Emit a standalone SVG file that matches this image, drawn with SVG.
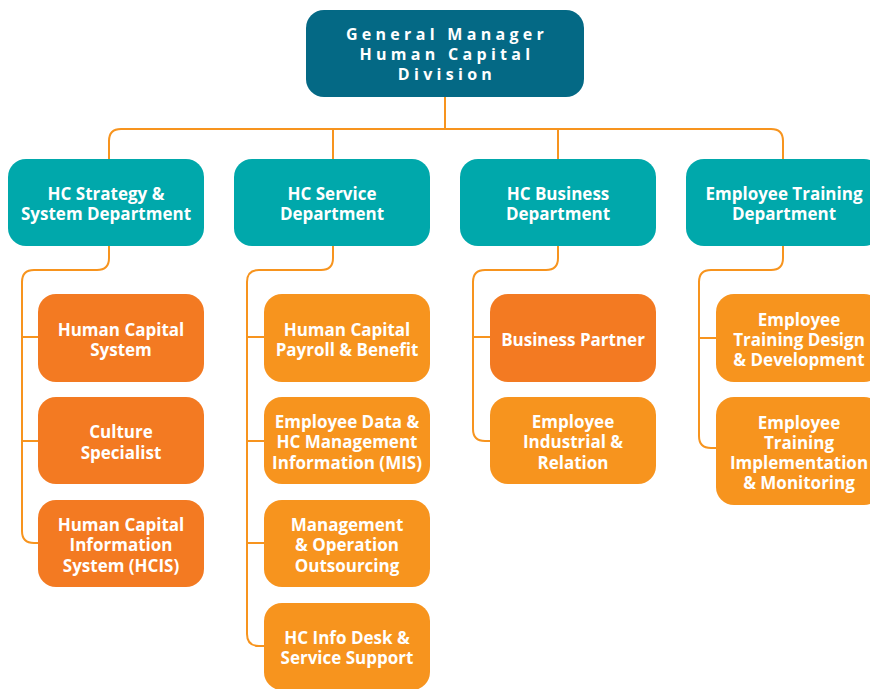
<svg xmlns="http://www.w3.org/2000/svg" width="870" height="689" viewBox="0 0 870 689">
<style>
.gm{fill:#046985}
.dept{fill:#00A8AB}
.dk{fill:#F37A22}
.lt{fill:#F7941E}
text{font-family:"Open Sans","Noto Sans",sans-serif;font-weight:bold;fill:#fff;text-anchor:middle;dominant-baseline:central;font-size:17px}
.title{font-size:16px;letter-spacing:4.3px}
.conn path{fill:none;stroke:#F7941E;stroke-width:2}
</style>
<rect width="870" height="689" fill="#fff"/>
<g class="conn" id="connectors">
<path d="M445,97 V129"/>
<path d="M109,159 V141 Q109,129 121,129 H771 Q783,129 783,141 V159"/>
<path d="M333,129 V159"/>
<path d="M558,129 V159"/>
<path d="M109,246 V258 Q109,270 97,270 H34 Q22,270 22,282 V531 Q22,543 34,543 H38"/>
<path d="M22,337 H38 M22,441 H38"/>
<path d="M333,246 V258 Q333,270 321,270 H259 Q247,270 247,282 V634 Q247,646 259,646 H264"/>
<path d="M247,337 H264 M247,441 H264 M247,543 H264"/>
<path d="M558,246 V258 Q558,270 546,270 H485 Q473,270 473,282 V429 Q473,441 485,441 H490"/>
<path d="M473,337 H490"/>
<path d="M783,246 V258 Q783,270 771,270 H711 Q699,270 699,282 V436 Q699,448 711,448 H716"/>
<path d="M699,338 H716"/>
</g>
<g id="gm"><rect class="gm" x="306" y="10" width="278" height="87" rx="18"/>
<text class="title" x="447" y="34">General Manager</text>
<text class="title" x="447" y="54">Human Capital</text>
<text class="title" x="447" y="74">Division</text></g>
<g id="dept1"><rect class="dept" x="8" y="159" width="196" height="87" rx="18"/>
<text x="106" y="193">HC Strategy &amp;</text><text x="106" y="213">System Department</text></g>
<g id="dept2"><rect class="dept" x="234" y="159" width="196" height="87" rx="18"/>
<text x="332" y="193">HC Service</text><text x="332" y="213">Department</text></g>
<g id="dept3"><rect class="dept" x="460" y="159" width="196" height="87" rx="18"/>
<text x="558" y="193">HC Business</text><text x="558" y="213">Department</text></g>
<g id="dept4"><rect class="dept" x="686" y="159" width="196" height="87" rx="18"/>
<text x="784" y="193">Employee Training</text><text x="784" y="213">Department</text></g>
<g id="c1a"><rect class="dk" x="38" y="294" width="166" height="88" rx="18"/>
<text x="121" y="329">Human Capital</text><text x="121" y="349">System</text></g>
<g id="c1b"><rect class="dk" x="38" y="397" width="166" height="87" rx="18"/>
<text x="121" y="431">Culture</text><text x="121" y="452">Specialist</text></g>
<g id="c1c"><rect class="dk" x="38" y="500" width="166" height="87" rx="18"/>
<text x="121" y="524">Human Capital</text><text x="121" y="544">Information</text><text x="121" y="565">System (HCIS)</text></g>
<g id="c2a"><rect class="lt" x="264" y="294" width="166" height="88" rx="18"/>
<text x="347" y="329">Human Capital</text><text x="347" y="349">Payroll &amp; Benefit</text></g>
<g id="c2b"><rect class="lt" x="264" y="397" width="166" height="87" rx="18"/>
<text x="347" y="421">Employee Data &amp;</text><text x="347" y="441">HC Management</text><text x="347" y="462">Information (MIS)</text></g>
<g id="c2c"><rect class="lt" x="264" y="500" width="166" height="87" rx="18"/>
<text x="347" y="524">Management</text><text x="347" y="544">&amp; Operation</text><text x="347" y="565">Outsourcing</text></g>
<g id="c2d"><rect class="lt" x="264" y="603" width="166" height="87" rx="18"/>
<text x="347" y="637">HC Info Desk &amp;</text><text x="347" y="657">Service Support</text></g>
<g id="c3a"><rect class="dk" x="490" y="294" width="166" height="88" rx="18"/>
<text x="573" y="339">Business Partner</text></g>
<g id="c3b"><rect class="lt" x="490" y="397" width="166" height="87" rx="18"/>
<text x="573" y="421">Employee</text><text x="573" y="441">Industrial &amp;</text><text x="573" y="462">Relation</text></g>
<g id="c4a"><rect class="lt" x="716" y="294" width="166" height="88" rx="18"/>
<text x="799" y="319">Employee</text><text x="799" y="339">Training Design</text><text x="799" y="359">&amp; Development</text></g>
<g id="c4b"><rect class="lt" x="716" y="397" width="166" height="108" rx="18"/>
<text x="799" y="422">Employee</text><text x="799" y="442">Training</text><text x="799" y="462">Implementation</text><text x="799" y="482">&amp; Monitoring</text></g>
</svg>
